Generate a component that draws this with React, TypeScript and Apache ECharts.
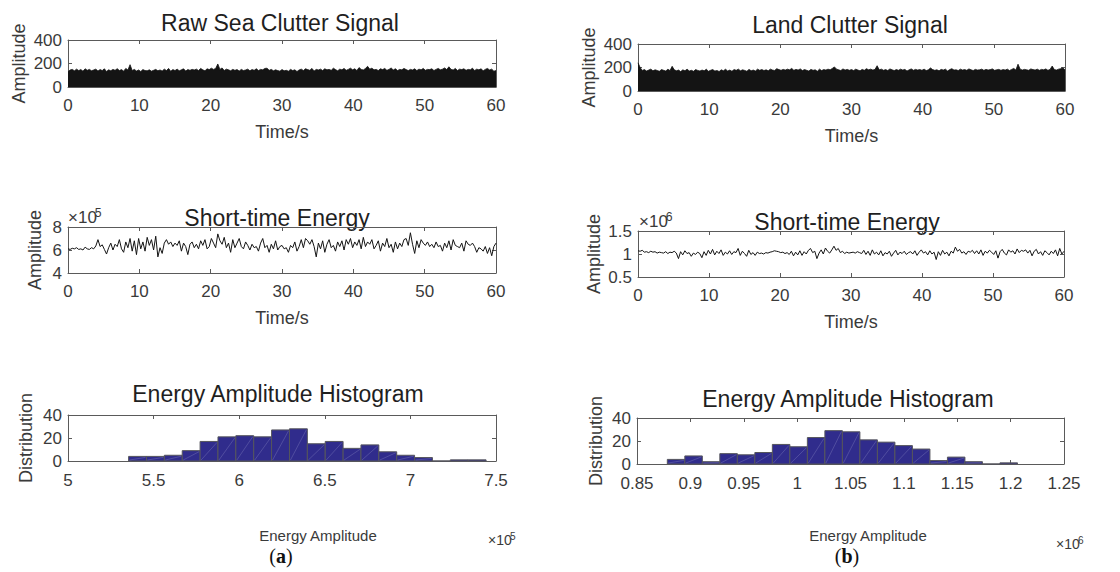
import React, { useEffect, useRef } from "react";
import * as echarts from "echarts";

// ---------------- DATA ----------------
const TIME_STEP = 0.3; // seconds between samples

// Raw sea clutter: upper envelope of the amplitude (dense signal drawn filled to 0)
const seaRaw = [
  130, 145, 150, 138, 152, 140, 148, 135, 155, 142,
  150, 138, 145, 152, 136, 148, 140, 155, 132, 146,
  138, 150, 142, 156, 140, 148, 135, 158, 145, 190,
  140, 150, 136, 145, 132, 148, 140, 138, 146, 135,
  142, 150, 138, 145, 136, 152, 140, 158, 134, 148,
  140, 152, 138, 146, 155, 136, 148, 142, 150, 145,
  152, 140, 158, 146, 138, 155, 148, 160, 150, 158,
  196, 150, 162, 140, 152, 146, 138, 150, 142, 148,
  136, 150, 140, 145, 152, 138, 148, 142, 155, 140,
  150, 146, 158, 160, 142, 150, 138, 146, 140, 135,
  148, 138, 142, 135, 150, 140, 146, 132, 145, 152,
  140, 155, 148, 142, 158, 136, 150, 145, 152, 140,
  155, 146, 150, 142, 160, 148, 138, 152, 146, 158,
  142, 150, 160, 146, 155, 140, 165, 150, 145, 158,
  176, 152, 160, 146, 150, 140, 155, 148, 158, 142,
  150, 162, 145, 155, 140, 150, 146, 158, 148, 140,
  150, 145, 155, 140, 152, 146, 158, 142, 150, 148,
  155, 140, 150, 158, 146, 152, 162, 148, 172, 150,
  145, 158, 140, 152, 148, 155, 142, 150, 146, 160,
  140, 152, 146, 155, 138, 150, 158, 145, 152, 135,
  140,
];

// Raw land clutter: upper envelope
const landRaw = [
  240, 200, 175, 182, 170, 178, 186, 172, 180, 175,
  168, 182, 176, 170, 185, 174, 210, 180, 172, 178,
  165, 180, 172, 186, 170, 176, 168, 182, 175, 170,
  178, 172, 185, 168, 176, 182, 170, 174, 166, 180,
  172, 185, 170, 178, 168, 182, 176, 186, 172, 180,
  175, 168, 184, 172, 178, 170, 186, 176, 182, 174,
  180, 172, 186, 178, 175, 190, 182, 176, 184, 178,
  186, 180, 192, 176, 184, 178, 188, 174, 182, 176,
  170, 184, 176, 180, 168, 186, 174, 182, 178, 186,
  180, 192, 205, 186, 180, 174, 188, 178, 184, 176,
  182, 174, 186, 178, 172, 184, 176, 190, 180, 186,
  178, 184, 215, 180, 186, 176, 182, 174, 188, 180,
  174, 182, 176, 186, 178, 184, 170, 180, 188, 176,
  184, 178, 182, 176, 186, 174, 180, 196, 182, 176,
  180, 172, 184, 178, 186, 170, 182, 190, 178, 180,
  174, 186, 178, 182, 176, 188, 180, 174, 184, 178,
  180, 186, 176, 184, 178, 182, 188, 176, 180, 184,
  176, 182, 178, 186, 174, 184, 192, 178, 228, 186,
  178, 184, 180, 176, 188, 182, 178, 186, 176, 184,
  180, 188, 176, 184, 212, 182, 178, 186, 190, 196,
  180,
];

// Short-time energy, sea (units of 10^5)
const seaEnergy = [
  6.1, 6.05, 6.15, 6.1, 6.2, 6.05, 6.1, 6.0, 6.25, 6.1,
  6.05, 6.2, 6.1, 6.35, 6.9, 6.3, 6.45, 6.05, 5.65, 6.2,
  6.6, 6.0, 6.5, 6.3, 6.9, 6.1, 5.8, 6.7, 6.2, 7.0,
  5.9, 6.8, 5.6, 7.0, 6.1, 6.7, 5.9, 7.1, 6.4, 6.9,
  6.0, 7.2, 5.4, 6.2, 5.7, 6.6, 6.9, 6.5, 6.7, 6.3,
  6.6, 6.4, 6.8, 5.9, 6.6, 6.3, 5.6, 6.5, 6.7, 6.2,
  6.5, 6.1, 6.8, 6.4, 6.9, 6.1, 6.3, 7.0, 6.6, 6.2,
  7.4, 6.8, 6.5, 7.1, 6.2, 6.6, 5.8, 6.9, 6.2, 6.6,
  7.0, 6.3, 6.1, 6.7, 6.4, 6.0, 6.5, 6.2, 6.3, 5.9,
  6.6, 7.0, 6.2, 6.4, 5.8, 6.5, 6.1, 6.8, 6.0, 6.3,
  6.4, 6.1, 6.2, 5.8, 6.4, 6.2, 6.7, 5.9, 6.3, 6.9,
  6.2, 7.0, 6.8, 6.5, 6.9, 6.3, 5.4, 6.6, 6.1, 6.8,
  5.8, 6.5, 6.9, 6.2, 6.4, 5.9, 6.7, 6.3, 6.8, 6.0,
  6.9, 6.5, 7.0, 6.2, 6.7, 6.4, 6.9, 6.1, 7.1, 6.3,
  6.7, 6.5, 6.9, 6.1, 6.4, 6.8, 5.9, 6.6, 6.3, 7.0,
  6.2, 6.5, 5.8, 6.7, 6.1, 6.6, 6.3, 6.9, 7.0, 6.4,
  7.5, 6.5, 5.7, 6.8, 6.2, 6.9, 6.6, 6.4, 6.7, 6.3,
  6.5, 6.2, 6.7, 6.3, 6.4, 5.9, 6.6, 6.2, 6.8, 6.0,
  6.9, 6.4, 6.3, 6.2, 6.6, 5.9, 6.8, 6.5, 6.4, 6.6,
  6.3, 5.8, 6.2, 6.1, 5.9, 6.3, 5.7, 6.2, 5.5, 6.3,
  6.6,
];

// Short-time energy, land (units of 10^6)
const landEnergy = [
  1.07, 1.06, 1.08, 1.04, 1.05, 1.03, 1.06, 1.04, 1.05, 1.02,
  1.04, 1.03, 1.02, 1.05, 1.01, 1.04, 1.03, 1.06, 1.02, 0.9,
  1.05, 0.98, 1.07, 1.01, 1.03, 0.95, 1.02, 0.99, 1.04, 1.01,
  0.92, 1.05, 0.97, 1.08, 1.0, 1.1, 0.98, 1.06, 1.01, 1.09,
  0.97, 1.04, 1.0, 1.07, 0.99, 1.05, 1.03, 1.12, 0.97, 1.06,
  1.01, 0.95, 1.08, 0.99, 1.03, 0.97, 1.04, 1.01, 1.02, 1.0,
  1.03, 1.02, 1.04, 1.05, 1.07, 1.06, 1.05, 1.03, 1.04, 1.01,
  1.03, 0.99, 1.06, 0.96, 1.04, 0.98, 1.07, 0.97, 1.05, 1.0,
  1.08, 1.12, 1.03, 1.06, 0.9, 1.02, 1.09, 1.0, 1.13, 1.06,
  1.02, 1.09, 1.17, 1.08, 1.12, 1.03, 1.06, 1.01, 1.04, 1.02,
  1.03, 1.04, 1.02, 1.05, 1.03, 1.01, 1.08, 0.99, 1.06, 0.97,
  1.09, 1.0, 1.04, 0.98, 1.07, 0.96, 1.03, 1.0, 1.06, 0.95,
  1.02, 1.08, 0.98, 1.04, 1.01, 1.06, 0.99, 1.03, 1.05, 1.0,
  1.07, 0.97, 1.04, 1.09, 1.02, 1.05, 0.98, 1.07, 1.0, 1.04,
  0.88, 1.05, 0.97, 1.08, 1.0, 1.04, 0.96, 1.06, 1.02, 1.15,
  1.06, 1.1, 1.02, 1.05, 0.99, 1.06, 1.04, 1.08, 1.01, 1.07,
  1.0, 1.09, 0.97, 1.06, 1.02, 1.08, 1.04, 0.99, 1.07, 0.91,
  1.05, 1.1, 1.02, 0.98, 1.09, 1.04, 1.07, 1.0, 1.11, 1.03,
  1.08, 1.06, 1.09, 1.02, 1.08, 0.96, 1.06, 1.1, 1.0, 1.05,
  0.97, 1.07, 1.03, 0.98, 1.06, 1.01, 1.09, 0.96, 1.12, 1.0,
  1.06,
];

// Histograms (uniform bins)
const seaHistStart = 5.354; // ×10^5
const seaHistWidth = 0.1044;
const seaHistCounts = [4, 4, 5, 9, 17, 21, 22, 21, 27, 28, 15, 17, 11, 14, 8, 5, 3, 0, 1, 1];

const landHistStart = 0.8784; // ×10^6
const landHistWidth = 0.0164;
const landHistCounts = [4, 7, 2, 9, 8, 10, 17, 15, 23, 29, 28, 21, 19, 16, 13, 3, 6, 2, 0, 1];

const titles = [
  "Raw Sea Clutter Signal",
  "Land Clutter Signal",
  "Short-time Energy",
  "Short-time Energy",
  "Energy Amplitude Histogram",
  "Energy Amplitude Histogram",
];

// ---------------- STYLE ----------------
const FONT = "'Liberation Sans', Arial, Helvetica, sans-serif";
const SERIF = "'Liberation Serif', 'DejaVu Serif', serif";
const AX = "#5a5a5a";
const LBL = "#3a3a3a";
const TXT = "#1f1f1f";

const toSeries = (vals: number[]) =>
  vals.map((v, i) => [Number((i * TIME_STEP).toFixed(1)), v]);

const binData = (start: number, width: number, counts: number[]) =>
  counts.map((c, i) => [start + i * width, start + (i + 1) * width, c]);

const fmt = (v: number) => String(Number(v.toFixed(2)));

type AxSpec = {
  min: number;
  max: number;
  interval: number;
  name?: string;
  nameGap?: number;
  nameSize?: number;
  margin?: number;
};

function makeAxes(g: number, x: AxSpec, y: AxSpec, labelSize: number) {
  const line = { show: true, onZero: false, lineStyle: { color: AX, width: 1 } };
  const tick = { show: true, inside: true, length: 4, lineStyle: { color: AX, width: 1 } };
  const label = {
    show: true,
    color: LBL,
    fontSize: labelSize,
    fontFamily: FONT,
    showMinLabel: true,
    showMaxLabel: true,
    formatter: fmt,
  };
  const xb: any = {
    type: "value",
    gridIndex: g,
    position: "bottom",
    min: x.min,
    max: x.max,
    interval: x.interval,
    axisLine: line,
    axisTick: tick,
    axisLabel: { ...label, margin: x.margin ?? 10 },
    splitLine: { show: false },
    name: x.name,
    nameLocation: "middle",
    nameGap: x.nameGap,
    nameTextStyle: { color: LBL, fontSize: x.nameSize, fontFamily: FONT },
  };
  const xt: any = {
    type: "value",
    gridIndex: g,
    position: "top",
    min: x.min,
    max: x.max,
    interval: x.interval,
    axisLine: line,
    axisTick: tick,
    axisLabel: { show: false },
    splitLine: { show: false },
  };
  const yl: any = {
    type: "value",
    gridIndex: g,
    position: "left",
    min: y.min,
    max: y.max,
    interval: y.interval,
    axisLine: line,
    axisTick: tick,
    axisLabel: { ...label, margin: y.margin ?? 6 },
    splitLine: { show: false },
    name: y.name,
    nameLocation: "middle",
    nameGap: y.nameGap,
    nameTextStyle: { color: LBL, fontSize: y.nameSize, fontFamily: FONT },
  };
  const yr: any = {
    type: "value",
    gridIndex: g,
    position: "right",
    min: y.min,
    max: y.max,
    interval: y.interval,
    axisLine: line,
    axisTick: tick,
    axisLabel: { show: false },
    splitLine: { show: false },
  };
  return { x: [xb, xt], y: [yl, yr] };
}

const grids = [
  { left: 68, top: 40, width: 428, height: 47 },
  { left: 638, top: 44, width: 427, height: 47 },
  { left: 68, top: 227, width: 428, height: 46 },
  { left: 638, top: 231, width: 426, height: 46 },
  { left: 68, top: 415, width: 428, height: 46 },
  { left: 637, top: 418, width: 427, height: 46 },
];

const titlePos = [
  [280, 23],
  [850, 25],
  [277, 218],
  [847, 222],
  [278, 394],
  [848, 399],
];

function histRender(params: any, api: any) {
  const x0 = api.value(0);
  const x1 = api.value(1);
  const c = api.value(2);
  const p0 = api.coord([x0, c]);
  const p1 = api.coord([x1, 0]);
  const w = p1[0] - p0[0];
  const h = p1[1] - p0[1];
  const children: any[] = [
    {
      type: "rect",
      shape: { x: p0[0], y: p0[1], width: w, height: h },
      style: { fill: "#302c8c", stroke: "#55555c", lineWidth: 1 },
    },
  ];
  if (h > 2) {
    children.push({
      type: "line",
      shape: { x1: p0[0] + 1, y1: p1[1] - 1, x2: p1[0] - 1, y2: p0[1] + 1 },
      style: { stroke: "rgba(200,200,230,0.35)", lineWidth: 0.6 },
    });
  }
  return { type: "group", children };
}

function exponent(x: number, y: number, exp: string, size: number) {
  return [
    {
      type: "text",
      x,
      y,
      style: { text: "×10", fill: LBL, fontSize: size, fontFamily: FONT, textVerticalAlign: "bottom" },
    },
    {
      type: "text",
      x: x + size * 1.58,
      y: y - size * 0.42,
      style: { text: exp, fill: LBL, fontSize: size * 0.72, fontFamily: FONT, textVerticalAlign: "bottom" },
    },
  ];
}

export default function App() {
  const ref = useRef<HTMLDivElement>(null);
  useEffect(() => {
    if (!ref.current) return;
    const chart = echarts.init(ref.current, null, { renderer: "svg" });

    const axesList = [
      makeAxes(0, { min: 0, max: 60, interval: 10, name: "Time/s", nameGap: 36, nameSize: 18 },
        { min: 0, max: 400, interval: 200, name: "Amplitude", nameGap: 40, nameSize: 18 }, 17),
      makeAxes(1, { min: 0, max: 60, interval: 10, name: "Time/s", nameGap: 36, nameSize: 18 },
        { min: 0, max: 400, interval: 200, name: "Amplitude", nameGap: 40, nameSize: 18 }, 17),
      makeAxes(2, { min: 0, max: 60, interval: 10, name: "Time/s", nameGap: 36, nameSize: 18 },
        { min: 4, max: 8, interval: 2, name: "Amplitude", nameGap: 24, nameSize: 18 }, 17),
      makeAxes(3, { min: 0, max: 60, interval: 10, name: "Time/s", nameGap: 36, nameSize: 18 },
        { min: 0.5, max: 1.5, interval: 0.5, name: "Amplitude", nameGap: 35, nameSize: 18 }, 17),
      makeAxes(4, { min: 5, max: 7.5, interval: 0.5, margin: 11 },
        { min: 0, max: 40, interval: 20, name: "Distribution", nameGap: 33, nameSize: 18 }, 17),
      makeAxes(5, { min: 0.85, max: 1.25, interval: 0.05, margin: 11 },
        { min: 0, max: 40, interval: 20, name: "Distribution", nameGap: 32, nameSize: 18 }, 17),
    ];

    const xAxis: any[] = [];
    const yAxis: any[] = [];
    axesList.forEach((a) => {
      xAxis.push(...a.x);
      yAxis.push(...a.y);
    });

    const lineSeries = (g: number, vals: number[], area: boolean) => ({
      type: "line",
      xAxisIndex: 2 * g,
      yAxisIndex: 2 * g,
      data: toSeries(vals),
      showSymbol: false,
      symbol: "none",
      lineStyle: { color: "#141414", width: area ? 0.8 : 1 },
      areaStyle: area ? { color: "#141414", opacity: 1, origin: "start" } : undefined,
      silent: true,
    });

    const histSeries = (g: number, data: number[][]) => ({
      type: "custom",
      xAxisIndex: 2 * g,
      yAxisIndex: 2 * g,
      data,
      renderItem: histRender,
      silent: true,
    });

    const graphic: any[] = [];
    titles.forEach((t, i) => {
      graphic.push({
        type: "text",
        x: titlePos[i][0],
        y: titlePos[i][1],
        style: {
          text: t,
          fill: TXT,
          fontSize: 23,
          fontFamily: FONT,
          textAlign: "center",
          textVerticalAlign: "middle",
        },
      });
    });
    // histogram x-axis labels
    graphic.push({
      type: "text",
      x: 318,
      y: 535,
      style: { text: "Energy Amplitude", fill: LBL, fontSize: 15, fontFamily: FONT, textAlign: "center", textVerticalAlign: "middle" },
    });
    graphic.push({
      type: "text",
      x: 868,
      y: 535,
      style: { text: "Energy Amplitude", fill: LBL, fontSize: 15, fontFamily: FONT, textAlign: "center", textVerticalAlign: "middle" },
    });
    graphic.push(...exponent(68, 226, "5", 17));
    graphic.push(...exponent(639, 230, "6", 17));
    graphic.push(...exponent(488, 547, "5", 14));
    graphic.push(...exponent(1056, 551, "6", 14));
    const capStyle = (letter: string) => ({
      text: `({b|${letter}})`,
      fill: "#111",
      fontSize: 20,
      fontFamily: SERIF,
      textAlign: "center",
      textVerticalAlign: "middle",
      rich: { b: { fontWeight: "bold", fontSize: 20, fontFamily: SERIF, fill: "#111" } },
    });
    graphic.push({ type: "text", x: 281, y: 556, style: capStyle("a") });
    graphic.push({ type: "text", x: 847, y: 556, style: capStyle("b") });

    chart.setOption({
      animation: false,
      backgroundColor: "#ffffff",
      grid: grids.map((g) => ({ ...g, containLabel: false, show: false })),
      xAxis,
      yAxis,
      series: [
        lineSeries(0, seaRaw, true),
        lineSeries(1, landRaw, true),
        lineSeries(2, seaEnergy, false),
        lineSeries(3, landEnergy, false),
        histSeries(4, binData(seaHistStart, seaHistWidth, seaHistCounts)),
        histSeries(5, binData(landHistStart, landHistWidth, landHistCounts)),
      ],
      graphic,
    });

    return () => chart.dispose();
  }, []);

  return (
    <div
      ref={ref}
      style={{ position: "absolute", left: 0, top: 0, width: 1120, height: 572, background: "#fff" }}
    />
  );
}
